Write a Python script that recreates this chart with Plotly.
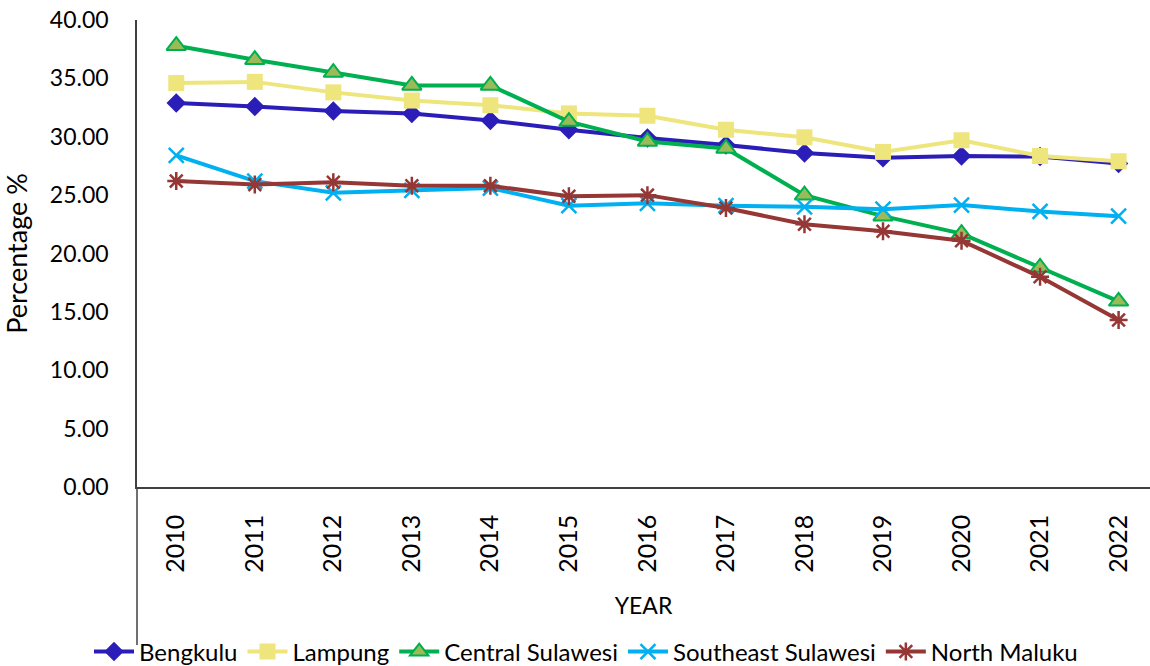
import plotly.graph_objects as go

years = ["2010", "2011", "2012", "2013", "2014", "2015", "2016",
         "2017", "2018", "2019", "2020", "2021", "2022"]

bengkulu = [32.9, 32.6, 32.2, 32.0, 31.4, 30.6, 29.9, 29.3, 28.6, 28.2, 28.35, 28.3, 27.7]
lampung = [34.6, 34.7, 33.8, 33.1, 32.7, 32.0, 31.8, 30.6, 29.95, 28.7, 29.7, 28.35, 27.9]
central_sulawesi = [37.8, 36.6, 35.5, 34.4, 34.4, 31.3, 29.6, 29.0, 25.0, 23.2, 21.7, 18.8, 15.9]
southeast_sulawesi = [28.4, 26.2, 25.2, 25.4, 25.6, 24.1, 24.3, 24.1, 24.0, 23.8, 24.15, 23.6, 23.2]
north_maluku = [26.2, 25.9, 26.1, 25.8, 25.8, 24.9, 25.0, 23.9, 22.5, 21.9, 21.1, 18.0, 14.3]

y_ticks = [0, 5, 10, 15, 20, 25, 30, 35, 40]

FONT = "Lato"

series = [
    ("Bengkulu", bengkulu, "#2B1DB8", dict(symbol="diamond", size=15, color="#2B1DB8",
                                           line=dict(width=0))),
    ("Lampung", lampung, "#EEE57C", dict(symbol="square", size=16, color="#EEE57C",
                                         line=dict(width=0))),
    ("Central Sulawesi", central_sulawesi, "#00B050", dict(symbol="triangle-up", size=17,
                                                           color="#9BBB59",
                                                           line=dict(width=2, color="#00B050"))),
    ("Southeast Sulawesi", southeast_sulawesi, "#00B0F0", dict(symbol="x-thin", size=15,
                                                               color="#00B0F0",
                                                               line=dict(width=2.5, color="#00B0F0"))),
    ("North Maluku", north_maluku, "#953735", dict(symbol="asterisk", size=15,
                                                   color="#953735",
                                                   line=dict(width=2.5, color="#953735"))),
]

fig = go.Figure()
for name, vals, col, mk in series:
    fig.add_trace(go.Scatter(
        x=years, y=vals, name=name, mode="lines+markers",
        line=dict(color=col, width=4), marker=mk,
    ))

W, H = 1150, 666
L, R, T, B = 137, 0, 20, 179
plot_h = H - T - B

fig.update_layout(
    width=W, height=H,
    margin=dict(l=L, r=R, t=T, b=B, autoexpand=False),
    paper_bgcolor="white", plot_bgcolor="white",
    font=dict(family=FONT, size=22, color="#000000"),
    showlegend=True,
    legend=dict(orientation="h", x=(586 - L) / (W - L - R), xanchor="center",
                y=(H - B - 652) / plot_h, yanchor="middle",
                font=dict(family=FONT, size=24, color="#000000"),
                itemwidth=40, tracegroupgap=0, bgcolor="rgba(0,0,0,0)"),
    xaxis=dict(
        type="category", range=[-0.5, 12.4],
        showline=True, linecolor="#404040", linewidth=1.5,
        showgrid=False, zeroline=False, ticks="",
        tickangle=-90, ticklabelstandoff=16,
        tickfont=dict(family=FONT, size=25),
        title=dict(text="YEAR", standoff=26, font=dict(family=FONT, size=23)),
    ),
    yaxis=dict(
        range=[0, 40], tickvals=y_ticks, tickformat=".2f",
        showline=True, linecolor="#404040", linewidth=1.5,
        showgrid=False, zeroline=False, ticks="",
        ticklabelstandoff=22,
        tickfont=dict(family=FONT, size=23),
        title=dict(text="Percentage %", standoff=14, font=dict(family=FONT, size=27)),
    ),
)

# extend the value axis line down through the category label band
fig.add_shape(type="line", xref="paper", yref="paper",
              x0=0, x1=0, y0=0, y1=-(645 - (H - B)) / plot_h,
              line=dict(color="#404040", width=1.5))

fig.write_html("out.html")
